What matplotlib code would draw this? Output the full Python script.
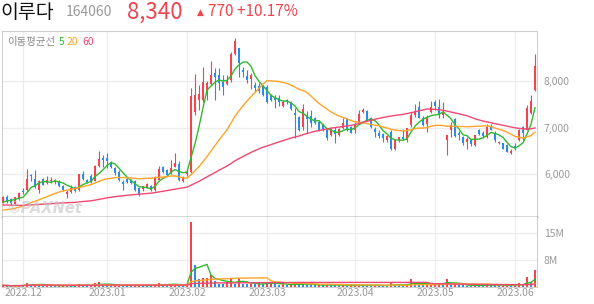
import matplotlib
matplotlib.use("Agg")
import matplotlib.pyplot as plt
import numpy as np
import pandas as pd

plt.rcParams["font.family"] = ["Noto Sans CJK KR", "DejaVu Sans"]

# closes before the visible window, only used to seed the moving averages
# (estimated from where the 5/20/60 lines start on the left edge)
prior_closes = [5600, 5580, 5620, 5650, 5610, 5570, 5540, 5560, 5520, 5500,
                5480, 5510, 5470, 5440, 5460, 5420, 5400, 5430, 5390, 5370,
                5350, 5380, 5340, 5320, 5300, 5330, 5290, 5270, 5300, 5260,
                5240, 5270, 5230, 5210, 5250, 5220, 5200, 5230, 5190, 5180,
                5170, 5150, 5180, 5140, 5160, 5130, 5150, 5170, 5190, 5160,
                5140, 5180, 5170, 5150, 5200, 5280, 5330, 5390, 5440]

# daily candles, 2022-11-24 .. 2023-06-09 (KRW)
opens = [5380, 5500, 5460, 5360, 5460, 5640, 5650, 5980, 5900, 5650,
         5890, 5800, 5840, 5820, 5830, 5740, 5560, 5600, 5720, 5650,
         6000, 5860, 5950, 5850, 6170, 6340, 6350, 6230, 6120, 6050,
         5830, 5900, 5860, 5840, 5690, 5670, 5720, 5740, 5660, 5880,
         6140, 6090, 6010, 6160, 6210, 5850, 5990, 6050, 7350, 7600,
         7600, 7780, 7950, 8180, 8140, 7990, 7940, 8030, 8600, 8720,
         8240, 8120, 8050, 7920, 7910, 7900, 7880, 7700, 7640, 7650,
         7470, 7600, 7560, 7310, 7240, 7020, 7270, 7250, 7200, 7130,
         7060, 6950, 6840, 6950, 6840, 6990, 7180, 7010, 6950, 7090,
         7350, 7360, 7220, 6970, 6890, 6860, 6730, 6910, 6550, 6730,
         6800, 6730, 7060, 7270, 7450, 7220, 7090, 7350, 7560, 7440,
         7270, 6730, 6950, 7180, 6880, 6790, 6700, 6730, 6620, 6950,
         6880, 6790, 7030, 6890, 6670, 6660, 6620, 6460, 6600, 6740,
         7020, 6950, 7310, 7810]
highs = [5530, 5540, 5490, 5510, 5620, 5690, 6100, 5990, 6080, 5880,
         5920, 5960, 5940, 5900, 5860, 5760, 5660, 5760, 5740, 6000,
         6060, 5900, 5990, 6200, 6490, 6410, 6450, 6280, 6160, 6080,
         5880, 5930, 5890, 5870, 5710, 5750, 5800, 5760, 5960, 6170,
         6180, 6110, 6300, 6460, 6270, 5960, 6080, 7850, 8170, 7920,
         8320, 8000, 8440, 8280, 8280, 8140, 8140, 8640, 8940, 8730,
         8320, 8250, 8180, 7990, 7970, 7920, 7920, 7720, 7700, 7700,
         7600, 7620, 7580, 7420, 7260, 7510, 7360, 7380, 7230, 7160,
         7100, 6990, 7000, 7020, 7000, 7200, 7200, 7040, 7130, 7380,
         7420, 7380, 7240, 7020, 6950, 6880, 6840, 6940, 6760, 6800,
         6970, 7000, 7350, 7510, 7580, 7250, 7270, 7580, 7600, 7630,
         7560, 6850, 7130, 7200, 6920, 6820, 6800, 6760, 6850, 6970,
         6920, 7080, 7080, 6920, 6720, 6680, 6650, 6530, 6680, 6980,
         7040, 7480, 7700, 8600]
lows = [5370, 5380, 5330, 5340, 5440, 5570, 5640, 5850, 5700, 5580,
        5760, 5780, 5800, 5780, 5720, 5640, 5480, 5590, 5620, 5640,
        5880, 5800, 5800, 5840, 6150, 6160, 6130, 6120, 5980, 5850,
        5650, 5800, 5780, 5630, 5520, 5640, 5700, 5640, 5640, 5860,
        6030, 5960, 5990, 6140, 5840, 5830, 5960, 6030, 7270, 7380,
        7560, 7600, 7930, 7600, 7810, 7700, 7920, 7990, 8580, 8100,
        8100, 7960, 7830, 7780, 7740, 7680, 7540, 7570, 7420, 7460,
        7440, 7520, 7390, 6770, 6920, 6950, 6880, 7020, 7080, 6930,
        6930, 6730, 6820, 6660, 6820, 6980, 6930, 6880, 6880, 7070,
        7310, 7150, 7000, 6800, 6770, 6700, 6700, 6520, 6520, 6700,
        6730, 6700, 7020, 7240, 7200, 7040, 6910, 7310, 7380, 7220,
        7200, 6410, 6800, 6800, 6740, 6630, 6550, 6600, 6610, 6840,
        6770, 6770, 6940, 6700, 6640, 6540, 6470, 6440, 6520, 6720,
        6730, 6940, 7290, 7800]
closes = [5510, 5420, 5380, 5500, 5580, 5600, 5900, 5950, 5720, 5850,
          5770, 5870, 5880, 5870, 5750, 5660, 5620, 5700, 5640, 5990,
          5900, 5820, 5830, 6180, 6330, 6300, 6270, 6160, 6020, 5880,
          5790, 5820, 5800, 5660, 5560, 5730, 5780, 5660, 5940, 6100,
          6050, 5980, 6120, 6230, 5870, 5940, 6050, 7690, 7700, 7720,
          7990, 7960, 8140, 8100, 7960, 7890, 8030, 8600, 8870, 8390,
          8200, 8040, 8140, 7850, 7790, 7700, 7560, 7600, 7600, 7560,
          7560, 7560, 7400, 7270, 6950, 7400, 7180, 7110, 7110, 6950,
          6950, 6770, 6970, 6860, 6970, 7110, 6950, 6880, 7080, 7290,
          7380, 7170, 7020, 6910, 6820, 6770, 6820, 6550, 6730, 6790,
          6750, 6990, 7270, 7370, 7220, 7060, 7200, 7440, 7470, 7270,
          7330, 6840, 7060, 6810, 6840, 6680, 6750, 6640, 6840, 6860,
          6820, 7010, 6960, 6730, 6700, 6550, 6480, 6500, 6560, 6950,
          6880, 7420, 7570, 8340]
# volume in millions of shares
volumes = [0.45, 0.35, 0.30, 0.40, 0.50, 0.35, 1.10, 0.60, 0.85, 0.55,
           0.40, 0.45, 0.35, 0.30, 0.35, 0.40, 0.45, 0.35, 0.30, 0.80,
           0.55, 0.35, 0.40, 1.10, 1.40, 0.60, 0.45, 0.35, 0.45, 0.60,
           0.55, 0.40, 0.35, 0.45, 0.50, 0.40, 0.35, 0.30, 0.80, 1.10,
           0.55, 0.45, 0.80, 0.90, 0.70, 0.40, 0.45, 17.9, 6.2, 2.3,
           2.4, 2.5, 3.2, 1.6, 0.9, 0.75, 1.4, 2.5, 0.8, 2.3,
           0.8, 0.7, 0.9, 0.7, 1.1, 0.8, 1.1, 1.4, 0.8, 0.6,
           0.7, 0.5, 0.6, 1.0, 0.9, 0.9, 0.6, 0.5, 0.45, 0.6,
           0.5, 0.7, 0.6, 0.5, 0.45, 0.5, 0.4, 0.45, 0.5, 0.6,
           0.5, 0.45, 0.4, 0.5, 0.45, 0.4, 0.35, 1.1, 0.6, 0.45,
           0.4, 0.7, 2.1, 1.1, 0.7, 0.5, 0.6, 0.8, 0.9, 1.1,
           0.9, 2.3, 0.6, 0.8, 0.5, 0.45, 0.4, 0.35, 0.6, 0.45,
           0.4, 0.8, 0.5, 0.45, 0.4, 0.45, 0.5, 0.4, 0.5, 1.1,
           0.7, 2.7, 1.4, 4.8]

month_idx = [5, 26, 46, 66, 88, 108, 128]
month_labels = ["2022.12", "2023.01", "2023.02", "2023.03", "2023.04", "2023.05", "2023.06"]
ma_windows = [5, 20, 60]

RED = "#f0444f"
BLUE = "#2f8ae5"
MA_COLORS = ["#30b930", "#ffa329", "#f24870"]
GREY = "#9a9a9a"

W, H = 594, 304
fig = plt.figure(figsize=(W / 100, H / 100), dpi=100)


def box(x0, y0, x1, y1):
    # pixel box -> figure rect
    return [x0 / W, 1 - y1 / H, (x1 - x0) / W, (y1 - y0) / H]


ax = fig.add_axes(box(2, 31, 537, 217))
axv = fig.add_axes(box(2, 217, 537, 287), sharex=ax)

x = np.arange(len(closes))
o = np.array(opens)
c = np.array(closes)
up = c >= o
cols = np.where(up, RED, BLUE)

# candles
ax.vlines(x, lows, highs, colors=cols, linewidth=0.8, zorder=3)
body = np.maximum(np.abs(c - o), 15)
ax.bar(x, body, bottom=np.minimum(o, c), width=0.74, color=cols, zorder=4)

# moving averages (seeded with the earlier closes)
s = pd.Series(prior_closes + closes, dtype=float)
k = len(prior_closes)
for n, col in zip(ma_windows, MA_COLORS):
    ma = s.rolling(n, min_periods=1).mean().iloc[k:]
    ax.plot(x, ma.values, color=col, linewidth=1.0, zorder=5)

ax.set_xlim(-0.25, 133.5)
ax.set_ylim(5070, 9090)
ax.yaxis.tick_right()
ax.set_yticks([6000, 7000, 8000])
ax.set_yticklabels(["6,000", "7,000", "8,000"])
ax.tick_params(axis="y", length=0, pad=5, labelsize=7.5, labelcolor=GREY)
ax.tick_params(axis="x", length=0, labelbottom=False)
ax.set_xticks(month_idx)
ax.grid(True, color="#ececec", linewidth=0.9, zorder=0)
ax.set_axisbelow(True)
for side in ["left", "top", "right"]:
    ax.spines[side].set_color("#d0d0d0")
ax.spines["bottom"].set_color("#333333")
ax.spines["bottom"].set_linewidth(1.0)

# volume: red when volume rose vs previous day
v = np.array(volumes) * 1e6
vcols = [RED] + [RED if v[i] > v[i - 1] else BLUE for i in range(1, len(v))]
axv.bar(x, v, width=0.74, color=vcols, zorder=3)
vs = pd.Series(v)
for n, col in zip(ma_windows, MA_COLORS):
    axv.plot(x, vs.rolling(n, min_periods=1).mean(), color=col, linewidth=1.0, zorder=4)

axv.set_ylim(0, 19.4e6)
axv.yaxis.tick_right()
axv.set_yticks([7.5e6, 15e6])
axv.set_yticklabels(["8M", "15M"])
axv.tick_params(axis="y", length=0, pad=5, labelsize=7.5, labelcolor=GREY)
axv.set_xticks(month_idx)
axv.set_xticklabels(month_labels)
axv.tick_params(axis="x", length=0, pad=1, labelsize=7.5, labelcolor=GREY)
axv.grid(True, color="#ececec", linewidth=0.9, zorder=0)
axv.set_axisbelow(True)
axv.spines["top"].set_visible(False)
axv.spines["left"].set_color("#d0d0d0")
axv.spines["right"].set_color("#d0d0d0")
axv.spines["bottom"].set_color("#d0d0d0")

# watermark
ax.text(0.01, 0.02, "©PAXNet", transform=ax.transAxes, fontsize=10.5,
        fontweight="bold", style="italic", color="#c4c4c4", alpha=0.6,
        family="DejaVu Sans", zorder=6)

# legend of averages
fig.text(7 / W, 1 - 42 / H, "이동평균선", fontsize=7.5, color="#8a8a8a", va="center")
fig.text(59 / W, 1 - 42 / H, "5", fontsize=7.5, color=MA_COLORS[0], va="center")
fig.text(67 / W, 1 - 42 / H, "20", fontsize=7.5, color=MA_COLORS[1], va="center")
fig.text(82 / W, 1 - 42 / H, "60", fontsize=7.5, color=MA_COLORS[2], va="center")

# header
fig.text(0, 1 - 12 / H, "이루다", fontsize=14, color="#111111", va="center")
fig.text(66 / W, 1 - 12 / H, "164060", fontsize=10, color="#999999", va="center")
fig.text(127 / W, 1 - 12 / H, "8,340", fontsize=16, color=RED, va="center")
fig.text(197 / W, 1 - 12 / H, "▲", fontsize=6.5, color=RED, va="center", family="DejaVu Sans")
fig.text(208 / W, 1 - 12 / H, "770 +10.17%", fontsize=11, color=RED, va="center")

fig.savefig("out.png", dpi=100)
plt.close()
